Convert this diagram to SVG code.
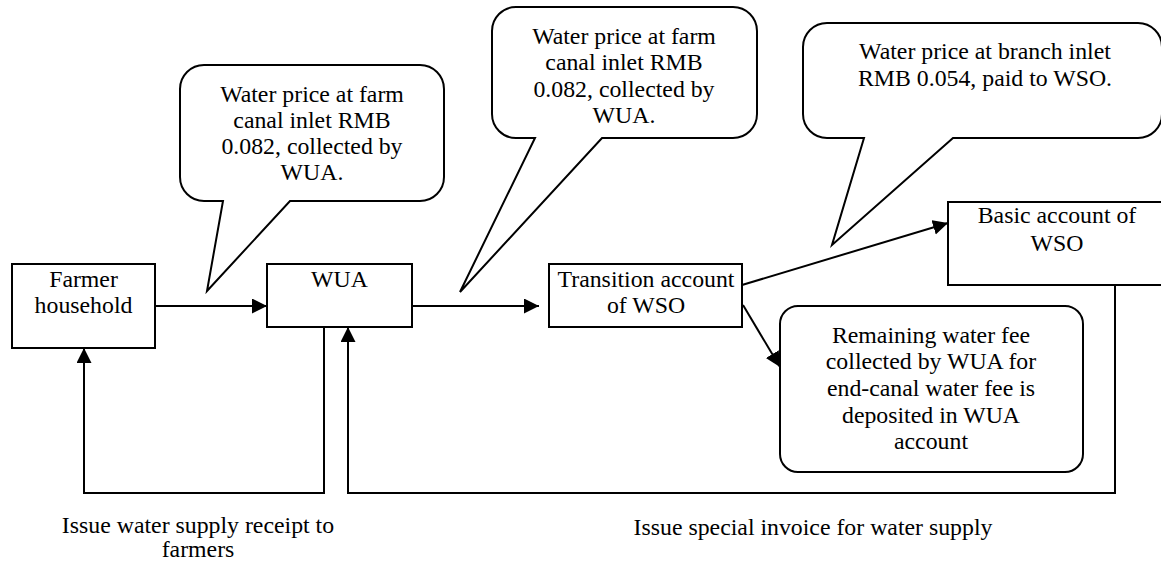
<svg xmlns="http://www.w3.org/2000/svg" width="1161" height="562" viewBox="0 0 1161 562">
  <style>
    .shape { fill: #fff; stroke: #000; stroke-width: 2; }
    .line { fill: none; stroke: #000; stroke-width: 2; }
    text { font-family: "Liberation Serif", "Times New Roman", serif; font-size: 23.8px; fill: #000; text-anchor: middle; }
  </style>
  <defs>
    <marker id="arrow" markerUnits="userSpaceOnUse" markerWidth="16" markerHeight="16" refX="15" refY="7.5" orient="auto">
      <path d="M0,0 L15,7.5 L0,15 Z" fill="#000"/>
    </marker>
  </defs>

  <g id="connectors">
    <line class="line" x1="155" y1="306" x2="267" y2="306" marker-end="url(#arrow)"/>
    <line class="line" x1="412" y1="306" x2="539" y2="306" marker-end="url(#arrow)"/>
    <line class="line" x1="742" y1="285" x2="948" y2="223" marker-end="url(#arrow)"/>
    <line class="line" x1="743" y1="305" x2="780" y2="367" marker-end="url(#arrow)"/>
    <polyline class="line" points="324,327 324,493 84,493 84,348" marker-end="url(#arrow)"/>
    <polyline class="line" points="1115,285 1115,493 348,493 348,327" marker-end="url(#arrow)"/>
  </g>

  <g id="callout-farm-1">
    <path class="shape" d="M204,65 H420 A24,24 0 0 1 444,89 V177 A24,24 0 0 1 420,201 H290 L207,291 L223,201 H204 A24,24 0 0 1 180,177 V89 A24,24 0 0 1 204,65 Z"/>
    <text x="312" y="102">Water price at farm</text>
    <text x="312" y="128">canal inlet RMB</text>
    <text x="312" y="154">0.082, collected by</text>
    <text x="312" y="180">WUA.</text>
  </g>

  <g id="callout-farm-2">
    <path class="shape" d="M516,7 H733 A24,24 0 0 1 757,31 V114 A24,24 0 0 1 733,138 H602 L460,292 L535,138 H516 A24,24 0 0 1 492,114 V31 A24,24 0 0 1 516,7 Z"/>
    <text x="624" y="44">Water price at farm</text>
    <text x="624" y="70">canal inlet RMB</text>
    <text x="624" y="97">0.082, collected by</text>
    <text x="624" y="123">WUA.</text>
  </g>

  <g id="callout-branch">
    <path class="shape" d="M827,23 H1138 A24,24 0 0 1 1162,47 V114 A24,24 0 0 1 1138,138 H953 L832,245 L864,138 H827 A24,24 0 0 1 803,114 V47 A24,24 0 0 1 827,23 Z"/>
    <text x="985" y="59">Water price at branch inlet</text>
    <text x="985" y="86">RMB 0.054, paid to WSO.</text>
  </g>

  <g id="farmer">
    <rect class="shape" x="12" y="264" width="143" height="84"/>
    <text x="83.5" y="287">Farmer</text>
    <text x="83.5" y="313">household</text>
  </g>

  <g id="wua">
    <rect class="shape" x="267" y="264" width="145" height="63"/>
    <text x="339.5" y="287">WUA</text>
  </g>

  <g id="transition">
    <rect class="shape" x="549" y="264" width="193" height="63"/>
    <text x="646" y="287">Transition account</text>
    <text x="646" y="313">of WSO</text>
  </g>

  <g id="basic">
    <rect class="shape" x="948" y="202" width="220" height="83"/>
    <text x="1057" y="223">Basic account of</text>
    <text x="1057" y="251">WSO</text>
  </g>

  <g id="remaining">
    <rect class="shape" x="780" y="306" width="303" height="166" rx="18" ry="18"/>
    <text x="931" y="343">Remaining water fee</text>
    <text x="931" y="369">collected by WUA for</text>
    <text x="931" y="396">end-canal water fee is</text>
    <text x="931" y="423">deposited in WUA</text>
    <text x="931" y="449">account</text>
  </g>

  <g id="label-receipt">
    <text x="198" y="533">Issue water supply receipt to</text>
    <text x="198" y="557">farmers</text>
  </g>

  <g id="label-invoice">
    <text x="813" y="535">Issue special invoice for water supply</text>
  </g>
</svg>
